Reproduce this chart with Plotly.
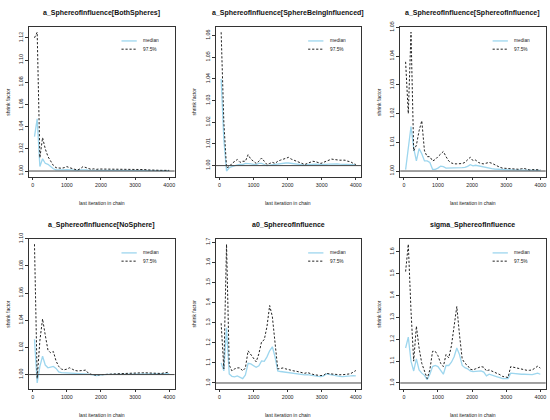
import plotly.graph_objects as go
from plotly.subplots import make_subplots

# last iteration of each bin (x axis of every panel)
last_iter = [51, 130, 209, 288, 367, 446, 525, 604, 683, 762,
             841, 920, 999, 1078, 1157, 1236, 1315, 1394, 1473, 1552,
             1631, 1710, 1789, 1868, 1947, 2026, 2105, 2184, 2263, 2342,
             2421, 2500, 2579, 2658, 2737, 2816, 2895, 2974, 3053, 3132,
             3211, 3290, 3369, 3448, 3527, 3606, 3685, 3764, 3843, 3922, 4000]

titles = ['a_SphereofInfluence[BothSpheres]',
          'a_SphereofInfluence[SphereBeingInfluenced]',
          'a_SphereofInfluence[SphereofInfluence]',
          'a_SphereofInfluence[NoSphere]',
          'a0_SphereofInfluence',
          'sigma_SphereofInfluence']

both_med = [1.031, 1.047, 1.004, 1.011, 1.007, 1.006, 1.004, 1.002, 1.001, 1.0008,
            1.0008, 1.001, 1.0012, 1.001, 1.0008, 1.0006, 1.0006, 1.001, 1.0012, 1.001,
            1.0008, 1.0007, 1.0007, 1.0006, 1.0006, 1.0006, 1.0005, 1.0005, 1.0005, 1.0005,
            1.0005, 1.0005, 1.0004, 1.0004, 1.0004, 1.0004, 1.0004, 1.0004, 1.0004, 1.0004,
            1.0004, 1.0004, 1.0003, 1.0003, 1.0003, 1.0003, 1.0003, 1.0003, 1.0003, 1.0003, 1.0003]
both_up = [1.12, 1.125, 1.012, 1.03, 1.02, 1.013, 1.009, 1.005, 1.003, 1.0025,
           1.0025, 1.003, 1.004, 1.003, 1.002, 1.0015, 1.001, 1.002, 1.004, 1.003,
           1.002, 1.0015, 1.002, 1.0015, 1.0018, 1.0018, 1.0015, 1.0015, 1.0015, 1.0016,
           1.0015, 1.0015, 1.0016, 1.0015, 1.0015, 1.0015, 1.0014, 1.0015, 1.0014, 1.0014,
           1.0014, 1.0013, 1.001, 1.0008, 1.0007, 1.0007, 1.0006, 1.0006, 1.0006, 1.0006, 1.0006]

being_med = [1.040, 1.012, 0.9975, 0.999, 0.9995, 1.0, 1.0003, 1.0005, 1.0005, 1.001,
             1.001, 1.0008, 1.0006, 1.0005, 1.001, 1.001, 1.0005, 1.0, 1.0002, 1.0004,
             1.0005, 1.0006, 1.0008, 1.001, 1.0012, 1.0012, 1.001, 1.0008, 1.0005, 1.0003,
             1.0002, 1.0002, 1.0004, 1.0006, 1.0007, 1.0007, 1.0006, 1.0005, 1.0005, 1.0006,
             1.0007, 1.0008, 1.0008, 1.0008, 1.0007, 1.0007, 1.0007, 1.0006, 1.0005, 1.0004, 1.0003]
being_up = [1.0615, 1.02, 0.999, 0.9995, 1.001, 1.002, 1.0028, 1.0015, 1.002, 1.002,
            1.005, 1.003, 1.002, 1.001, 1.002, 1.0035, 1.002, 1.0005, 1.001, 1.0015,
            1.001, 1.002, 1.0025, 1.003, 1.0035, 1.0038, 1.003, 1.0025, 1.002, 1.0015,
            1.001, 1.0005, 1.001, 1.0015, 1.002, 1.0018, 1.0015, 1.001, 1.0015, 1.002,
            1.0025, 1.003, 1.0028, 1.0025, 1.0025, 1.0025, 1.0025, 1.002, 1.0018, 1.001, 1.0005]

soi_med = [1.0005, 1.008, 1.0155, 1.008, 1.0035, 1.0078, 1.006, 1.0035, 1.0035, 1.003,
           1.0006, 1.0006, 1.001, 1.0017, 1.0015, 1.001, 1.001, 1.0012, 1.0012, 1.001,
           1.0011, 1.0012, 1.0013, 1.0016, 1.0022, 1.0018, 1.002, 1.0018, 1.0014, 1.0012,
           1.001, 1.0009, 1.0008, 1.0007, 1.0006, 1.0006, 1.0005, 1.0005, 1.0004, 1.0004,
           1.0004, 1.0003, 1.0003, 1.0003, 1.0003, 1.0003, 1.0002, 1.0002, 1.0002, 1.0002, 1.0002]
soi_up = [1.038, 1.02, 1.0483, 1.007, 1.009, 1.014, 1.0175, 1.007, 1.005, 1.005,
          1.0035, 1.004, 1.005, 1.006, 1.0068, 1.005, 1.0035, 1.0028, 1.0025, 1.0025,
          1.0025, 1.0026, 1.003, 1.0038, 1.0048, 1.0036, 1.0038, 1.003, 1.0026, 1.0025,
          1.0028, 1.003, 1.0027, 1.0022, 1.0017, 1.0013, 1.001, 1.0009, 1.0008, 1.0008,
          1.0007, 1.0007, 1.0006, 1.0008, 1.0009, 1.0006, 1.0004, 1.0005, 1.0005, 1.0006, 1.0004]

nosph_med = [1.026, 0.9938, 1.006, 1.0135, 1.007, 1.005, 1.0055, 1.006, 1.0045, 1.002,
             1.0015, 1.0014, 1.0016, 1.0014, 1.0012, 1.001, 1.0009, 1.0008, 1.0006, 1.0005,
             1.0003, 0.9999, 0.9994, 0.9992, 0.9996, 0.9999, 1.0, 1.0001, 1.0002, 1.0002,
             1.0003, 1.0003, 1.0004, 1.0004, 1.0005, 1.0005, 1.0006, 1.0005, 1.0005, 1.0005,
             1.0005, 1.0005, 1.0004, 1.0004, 1.0004, 1.0003, 1.0002, 1.0003, 1.0004, 1.0005, 1.0006]
nosph_up = [1.096, 0.997, 1.025, 1.041, 1.029, 1.018, 1.016, 1.017, 1.010, 1.006,
            1.004, 1.0035, 1.004, 1.005, 1.004, 1.003, 1.0027, 1.0027, 1.003, 1.0033,
            1.001, 1.0002, 0.9997, 0.9995, 0.9998, 1.0, 1.0002, 1.0003, 1.0004, 1.0005,
            1.0005, 1.0006, 1.0007, 1.0008, 1.001, 1.0012, 1.0014, 1.0013, 1.0013, 1.0014,
            1.0013, 1.0013, 1.0012, 1.0012, 1.0012, 1.0008, 1.0005, 1.0008, 1.0012, 1.0016, 1.0018]

a0_med = [1.10, 1.06, 1.275, 1.045, 1.033, 1.03, 1.035, 1.03, 1.022, 1.04,
          1.098, 1.095, 1.088, 1.078, 1.085, 1.11, 1.108, 1.13, 1.16, 1.18,
          1.13, 1.06, 1.057, 1.055, 1.053, 1.051, 1.05, 1.05, 1.048, 1.045,
          1.043, 1.04, 1.042, 1.039, 1.037, 1.035, 1.033, 1.032, 1.035, 1.045,
          1.042, 1.04, 1.037, 1.035, 1.033, 1.032, 1.032, 1.033, 1.035, 1.037, 1.035]
a0_up = [1.297, 1.07, 1.69, 1.09, 1.06, 1.07, 1.075, 1.075, 1.06, 1.075,
         1.16, 1.14, 1.125, 1.105, 1.145, 1.205, 1.215, 1.28, 1.385, 1.33,
         1.2, 1.07, 1.072, 1.075, 1.07, 1.066, 1.063, 1.06, 1.058, 1.055,
         1.05, 1.048, 1.052, 1.046, 1.043, 1.04, 1.038, 1.037, 1.038, 1.048,
         1.046, 1.044, 1.043, 1.042, 1.041, 1.041, 1.041, 1.044, 1.046, 1.055, 1.062]

sigma_med = [1.16, 1.21, 1.10, 1.055, 1.11, 1.06, 1.045, 1.035, 1.015, 1.04,
             1.075, 1.08, 1.075, 1.06, 1.04, 1.08, 1.08, 1.095, 1.12, 1.16,
             1.13, 1.08, 1.07, 1.065, 1.055, 1.052, 1.053, 1.055, 1.055, 1.05,
             1.033, 1.04, 1.035, 1.03, 1.028, 1.024, 1.02, 1.02, 1.02, 1.045,
             1.043, 1.042, 1.04, 1.04, 1.04, 1.04, 1.038, 1.038, 1.042, 1.045, 1.04]
sigma_up = [1.51, 1.635, 1.33, 1.10, 1.26, 1.16, 1.09, 1.05, 1.02, 1.06,
            1.145, 1.145, 1.125, 1.09, 1.075, 1.13, 1.115, 1.17, 1.25, 1.35,
            1.22, 1.11, 1.09, 1.08, 1.063, 1.06, 1.065, 1.07, 1.075, 1.072,
            1.055, 1.06, 1.055, 1.05, 1.045, 1.038, 1.03, 1.027, 1.025, 1.075,
            1.072, 1.068, 1.065, 1.062, 1.06, 1.058, 1.058, 1.06, 1.068, 1.077, 1.068]

medians = [both_med, being_med, soi_med, nosph_med, a0_med, sigma_med]
uppers = [both_up, being_up, soi_up, nosph_up, a0_up, sigma_up]
y_dticks = [0.02, 0.01, 0.01, 0.02, 0.1, 0.1]
y_formats = ['.2f', '.2f', '.2f', '.2f', '.1f', '.1f']
x_ticks = [0, 1000, 2000, 3000, 4000]
reference_level = 1.0

FONT = 'Liberation Sans, Arial, sans-serif'
MED_COLOR = '#9dd6ee'
DASH = '2.2px,1.8px'

# plot regions (paper fractions), like R's mfrow=c(2,3)
col_dom = [[0.053, 0.318], [0.393, 0.658], [0.729, 0.994]]
row_dom = [[0.588, 0.95], [0.076, 0.438]]

fig = make_subplots(rows=2, cols=3)

annotations = []
shapes = []

for i in range(6):
    r, c = i // 3, i % 3
    n = i + 1
    xa = 'x' if n == 1 else 'x%d' % n
    ya = 'y' if n == 1 else 'y%d' % n

    fig.add_trace(go.Scatter(x=last_iter, y=medians[i], mode='lines',
                             line=dict(color=MED_COLOR, width=1.3), showlegend=False),
                  row=r + 1, col=c + 1)
    fig.add_trace(go.Scatter(x=last_iter, y=uppers[i], mode='lines',
                             line=dict(color='#222222', width=1, dash=DASH), showlegend=False),
                  row=r + 1, col=c + 1)

    # R style axis range: 4% padding, y range includes 1
    lo = min([reference_level] + medians[i] + uppers[i])
    hi = max(medians[i] + uppers[i])
    ypad = 0.04 * (hi - lo)
    xpad = 0.04 * (max(last_iter) - min(last_iter))

    axis_common = dict(showline=True, mirror=True, linecolor='#333333', linewidth=0.8,
                       ticks='outside', ticklen=3, tickwidth=0.7, tickcolor='#333333',
                       showgrid=False, zeroline=False,
                       tickfont=dict(family=FONT, size=5.3, color='#222222'))
    fig.update_xaxes(domain=col_dom[c], range=[min(last_iter) - xpad, max(last_iter) + xpad],
                     tickvals=x_ticks, row=r + 1, col=c + 1, **axis_common)
    fig.update_yaxes(domain=row_dom[r], range=[lo - ypad, hi + ypad],
                     tick0=1, dtick=y_dticks[i], tickformat=y_formats[i], tickangle=-90,
                     row=r + 1, col=c + 1, **axis_common)

    # horizontal reference line at 1
    shapes.append(dict(type='line', xref=xa + ' domain', yref=ya, x0=0, x1=1,
                       y0=reference_level, y1=reference_level,
                       line=dict(color='#444444', width=1)))

    xmid = sum(col_dom[c]) / 2
    top = row_dom[r][1]
    bot = row_dom[r][0]
    annotations.append(dict(text='<b>%s</b>' % titles[i], x=xmid, y=top + 0.018,
                            xref='paper', yref='paper', showarrow=False,
                            xanchor='center', yanchor='bottom',
                            font=dict(family=FONT, size=7, color='#111111')))
    annotations.append(dict(text='last iteration in chain', x=xmid, y=bot - 0.064,
                            xref='paper', yref='paper', showarrow=False,
                            xanchor='center', yanchor='middle',
                            font=dict(family=FONT, size=5, color='#222222')))
    annotations.append(dict(text='shrink factor', x=col_dom[c][0] - 0.04, y=(top + bot) / 2,
                            xref='paper', yref='paper', showarrow=False, textangle=-90,
                            xanchor='center', yanchor='middle',
                            font=dict(family=FONT, size=5, color='#222222')))

    # legend in the top right corner
    for k, (lab, col, dash) in enumerate([('median', MED_COLOR, 'solid'),
                                          ('97.5%', '#222222', DASH)]):
        ly = 0.905 - k * 0.055
        shapes.append(dict(type='line', xref=xa + ' domain', yref=ya + ' domain',
                           x0=0.635, x1=0.74, y0=ly, y1=ly,
                           line=dict(color=col, width=1.3 if k == 0 else 1, dash=dash)))
        annotations.append(dict(text=lab, xref=xa + ' domain', yref=ya + ' domain',
                                x=0.77, y=ly, showarrow=False, xanchor='left', yanchor='middle',
                                font=dict(family=FONT, size=4.8, color='#222222')))

fig.update_layout(width=550, height=420, margin=dict(l=0, r=0, t=0, b=0),
                  paper_bgcolor='white', plot_bgcolor='white',
                  annotations=annotations, shapes=shapes, showlegend=False)

# drop the default page margin so the 550x420 figure sits at the window's corner
fig.write_html("out.html", config={'displayModeBar': False},
               post_script="document.body.style.margin='0';document.body.style.overflow='hidden';")
